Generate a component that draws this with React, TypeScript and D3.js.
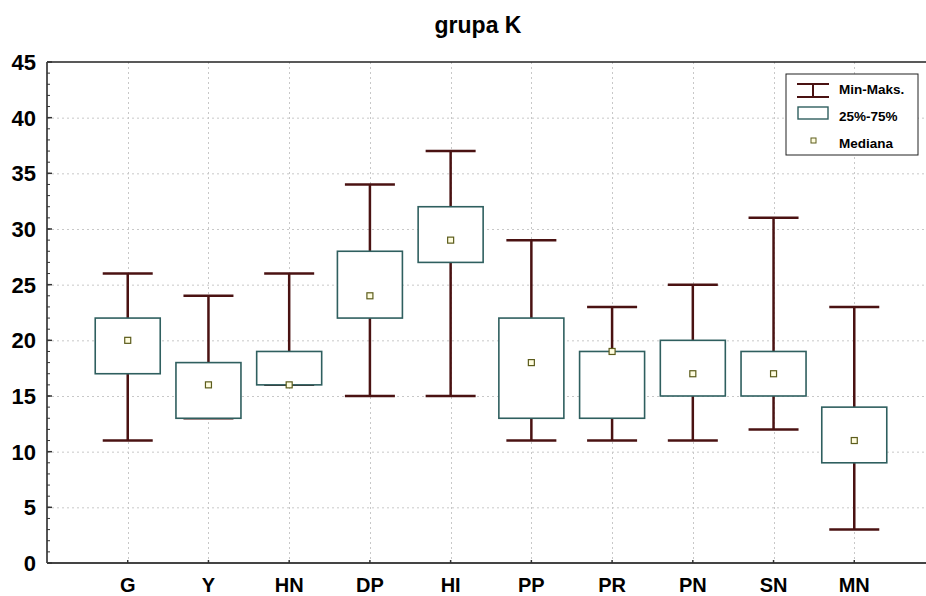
import { useEffect, useRef } from 'react';
import * as d3 from 'd3';

const categories = ['G', 'Y', 'HN', 'DP', 'HI', 'PP', 'PR', 'PN', 'SN', 'MN'];
const minValues = [11, 13, 16, 15, 15, 11, 11, 11, 12, 3];
const q1Values = [17, 13, 16, 22, 27, 13, 13, 15, 15, 9];
const medianValues = [20, 16, 16, 24, 29, 18, 19, 17, 17, 11];
const q3Values = [22, 18, 19, 28, 32, 22, 19, 20, 19, 14];
const maxValues = [26, 24, 26, 34, 37, 29, 23, 25, 31, 23];
const yTicks = [0, 5, 10, 15, 20, 25, 30, 35, 40, 45];
const legendLabels = ['Min-Maks.', '25%-75%', 'Mediana'];

const WHISKER = '#4a1212';
const BOX = '#2f5f5f';
const FONT = '"Liberation Sans", Arial, sans-serif';

export default function App() {
  const svgRef = useRef<SVGSVGElement>(null);

  useEffect(() => {
    if (!svgRef.current) return;
    const svg = d3.select(svgRef.current);
    svg.selectAll('*').remove();

    const left = 47, top = 62, bottom = 563, right = 935;

    const x = d3.scaleLinear().domain([0, 11]).range([left, right]);
    const y = d3.scaleLinear().domain([0, 45]).range([bottom, top]);

    // Title
    svg.append('text')
      .attr('x', 478).attr('y', 33)
      .attr('text-anchor', 'middle')
      .attr('font-family', FONT).attr('font-weight', 'bold').attr('font-size', 23)
      .text('grupa K');

    // Grid
    const grid = svg.append('g')
      .attr('stroke', '#c8c8c8').attr('stroke-width', 1).attr('stroke-dasharray', '2,3');
    grid.selectAll('line.h')
      .data(yTicks.filter(t => t > 0 && t < 45))
      .join('line')
      .attr('x1', left).attr('x2', right)
      .attr('y1', d => y(d) + 0.5).attr('y2', d => y(d) + 0.5);
    grid.selectAll('line.v')
      .data(categories)
      .join('line')
      .attr('x1', (_, i) => Math.round(x(i + 1)) + 0.5).attr('x2', (_, i) => Math.round(x(i + 1)) + 0.5)
      .attr('y1', top).attr('y2', bottom);

    // Frame
    svg.append('line').attr('x1', left).attr('x2', right).attr('y1', top).attr('y2', top)
      .attr('stroke', '#222').attr('stroke-width', 1.5);
    svg.append('line').attr('x1', left).attr('x2', right).attr('y1', bottom).attr('y2', bottom)
      .attr('stroke', '#444').attr('stroke-width', 2);
    svg.append('line').attr('x1', left).attr('x2', left).attr('y1', top).attr('y2', bottom)
      .attr('stroke', '#555').attr('stroke-width', 2);

    // Minor ticks on y axis
    svg.append('g').selectAll('line')
      .data(d3.range(1, 45))
      .join('line')
      .attr('x1', left).attr('x2', left + 3)
      .attr('y1', d => y(d)).attr('y2', d => y(d))
      .attr('stroke', '#333').attr('stroke-width', 1);
    svg.append('g').selectAll('line')
      .data(yTicks)
      .join('line')
      .attr('x1', left).attr('x2', left + 5)
      .attr('y1', d => y(d)).attr('y2', d => y(d))
      .attr('stroke', '#333').attr('stroke-width', 1.5);

    // Y labels
    svg.append('g').selectAll('text')
      .data(yTicks)
      .join('text')
      .attr('x', 36).attr('y', d => y(d) + 8)
      .attr('text-anchor', 'end')
      .attr('font-family', FONT).attr('font-weight', 'bold').attr('font-size', 22)
      .text(d => d);

    // X ticks + labels
    svg.append('g').selectAll('line')
      .data(categories)
      .join('line')
      .attr('x1', (_, i) => x(i + 1)).attr('x2', (_, i) => x(i + 1))
      .attr('y1', bottom).attr('y2', bottom - 3)
      .attr('stroke', '#333').attr('stroke-width', 1.5);
    svg.append('g').selectAll('text')
      .data(categories)
      .join('text')
      .attr('x', (_, i) => x(i + 1)).attr('y', 592)
      .attr('text-anchor', 'middle')
      .attr('font-family', FONT).attr('font-weight', 'bold').attr('font-size', 20)
      .text(d => d);

    // Boxes
    const boxW = 65, capW = 50, med = 6;
    const g = svg.append('g').selectAll('g')
      .data(categories)
      .join('g')
      .attr('transform', (_, i) => `translate(${x(i + 1)},0)`);

    g.append('line').attr('x1', 0).attr('x2', 0)
      .attr('y1', (_, i) => y(maxValues[i])).attr('y2', (_, i) => y(q3Values[i]))
      .attr('stroke', WHISKER).attr('stroke-width', 2.5);
    g.append('line').attr('x1', 0).attr('x2', 0)
      .attr('y1', (_, i) => y(q1Values[i])).attr('y2', (_, i) => y(minValues[i]))
      .attr('stroke', WHISKER).attr('stroke-width', 2.5);
    g.append('line').attr('x1', -capW / 2).attr('x2', capW / 2)
      .attr('y1', (_, i) => y(maxValues[i])).attr('y2', (_, i) => y(maxValues[i]))
      .attr('stroke', WHISKER).attr('stroke-width', 2.5);
    g.append('line').attr('x1', -capW / 2).attr('x2', capW / 2)
      .attr('y1', (_, i) => y(minValues[i])).attr('y2', (_, i) => y(minValues[i]))
      .attr('stroke', WHISKER).attr('stroke-width', 2.5);
    g.append('rect')
      .attr('x', -boxW / 2).attr('width', boxW)
      .attr('y', (_, i) => y(q3Values[i]))
      .attr('height', (_, i) => y(q1Values[i]) - y(q3Values[i]))
      .attr('fill', 'white').attr('stroke', BOX).attr('stroke-width', 1.6);
    g.append('rect')
      .attr('x', -med / 2).attr('width', med)
      .attr('y', (_, i) => y(medianValues[i]) - med / 2).attr('height', med)
      .attr('fill', '#fffde0').attr('stroke', '#5c5c1c').attr('stroke-width', 1.2);

    // Legend
    const lg = svg.append('g').attr('transform', 'translate(786,74)');
    lg.append('rect').attr('x', 0).attr('y', 0).attr('width', 132).attr('height', 81)
      .attr('fill', 'white').attr('stroke', '#222').attr('stroke-width', 1);
    lg.append('line').attr('x1', 11).attr('x2', 43).attr('y1', 10).attr('y2', 10)
      .attr('stroke', WHISKER).attr('stroke-width', 2);
    lg.append('line').attr('x1', 11).attr('x2', 43).attr('y1', 23).attr('y2', 23)
      .attr('stroke', WHISKER).attr('stroke-width', 2);
    lg.append('line').attr('x1', 27).attr('x2', 27).attr('y1', 10).attr('y2', 23)
      .attr('stroke', WHISKER).attr('stroke-width', 2);
    lg.append('rect').attr('x', 12).attr('y', 33).attr('width', 30).attr('height', 12)
      .attr('fill', 'white').attr('stroke', BOX).attr('stroke-width', 1.4);
    lg.append('rect').attr('x', 25).attr('y', 64).attr('width', 5).attr('height', 5)
      .attr('fill', '#fffde0').attr('stroke', '#5c5c1c').attr('stroke-width', 1);
    lg.selectAll('text.l')
      .data(legendLabels)
      .join('text')
      .attr('x', 53).attr('y', (_, i) => 20 + i * 27)
      .attr('font-family', FONT).attr('font-weight', 'bold').attr('font-size', 13.5)
      .text(d => d);
  }, []);

  return (
    <svg
      ref={svgRef}
      width={926}
      height={596}
      style={{ position: 'absolute', left: 0, top: 0, background: 'white' }}
    />
  );
}
